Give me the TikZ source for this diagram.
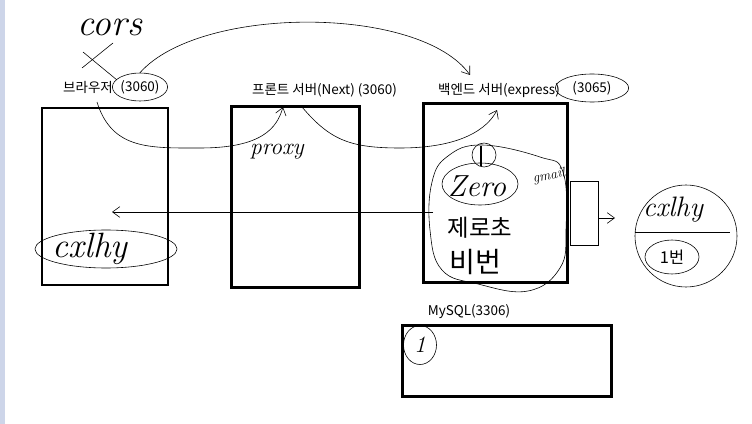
\documentclass[tikz,border=0pt]{standalone}
\usepackage{fontspec}
\newfontfamily\krfont{Noto Sans CJK KR}
\usetikzlibrary{positioning,arrows.meta,shapes.geometric}
\definecolor{sidebar}{RGB}{205,213,233}

\begin{document}
\begin{tikzpicture}[
    x=0.03cm, y=-0.03cm,
    server/.style={
        rectangle,
        draw,
        line width=2.4pt,
        inner sep=0pt
    },
    portname/.style={
        font=\krfont\fontsize{11.5}{13}\selectfont,
        inner sep=1pt
    },
    scrawl/.style={
        font=\itshape\fontsize{20}{20}\selectfont,
        inner sep=0pt
    },
    hand/.style={line width=0.5pt},
    ring/.style={ellipse, draw, line width=0.5pt, inner sep=0pt},
    arrow/.style={-{Straight Barb[length=2.2mm,width=3.2mm]}, line width=0.5pt}
]
\useasboundingbox (0,0) rectangle (752,424);
\fill[sidebar] (0,0) rectangle (5,424);

% servers
\node[server, minimum width=3.78cm, minimum height=5.31cm] (browser) at (105,196.5) {};
\node[server, minimum width=3.84cm, minimum height=5.43cm] (front) at (295.5,197) {};
\node[server, minimum width=4.32cm, minimum height=5.37cm] (back) at (495.5,193) {};
\node[server, minimum width=6.27cm, minimum height=2.13cm] (mysql) at (507,361) {};

% labels
\node[portname] (browserlbl) at (88,87) {브라우저};
\node[portname, ring, minimum width=1.5cm, minimum height=0.84cm] (browserport) at (140,87) {(3060)};
\node[portname] (frontlbl) at (324.5,90) {프론트 서버(Next) (3060)};
\node[portname] (backlbl) at (499,90) {백엔드 서버(express)};
\node[portname, ring, minimum width=2.2cm, minimum height=0.84cm] (backport) at (592,88) {(3065)};
\node[portname] (mysqllbl) at (469,312) {MySQL(3306)};

% cors
\node[scrawl, font=\itshape\fontsize{32}{32}\selectfont] (cors) at (110,27) {cors};
\draw[hand] (82,68) -- (113,43);
\draw[hand] (83,52) -- (117,80);
\coordinate (corsend) at (470,75);
\draw[arrow] (browserport.north) .. controls (200,5) and (420,5) .. (corsend);

% proxy
\node[scrawl] (proxy) at (277,152) {proxy};
\coordinate (proxyfrom) at (97,102);
\coordinate (proxyto) at (283,107);
\draw[arrow] (proxyfrom) .. controls (112,150) and (150,148) .. (200,148)
    .. controls (262,148) and (277,128) .. (proxyto);
\coordinate (apifrom) at (302,107);
\coordinate (apito) at (497,110);
\draw[arrow] (apifrom) .. controls (330,140) and (350,148) .. (400,148)
    .. controls (462,148) and (488,128) .. (apito);

% cookie back to browser
\coordinate (cookiefrom) at (433,212);
\coordinate (cookieto) at (112,212);
\draw[arrow] (cookiefrom) -- (cookieto);
\node[ring, minimum width=4.26cm, minimum height=1.14cm] (cookiering) at (106,249) {};
\node[scrawl, font=\itshape\fontsize{30}{30}\selectfont] (cookie) at (90,249) {cxlhy};

% session in backend
\draw[hand] plot[smooth cycle, tension=0.7] coordinates {(482,145) (540,157) (563,172) (566,230) (560,268) (528,291) (478,284) (442,270) (430,230) (432,182) (448,156)};
\node[ring, circle, minimum size=0.72cm] (session) at (484,155) {};
\draw[line width=1.8pt] (481,146) -- (481,166);
\node[ring, minimum width=2.28cm, minimum height=1.26cm] (zeroring) at (480,184) {};
\node[scrawl, font=\itshape\fontsize{26}{26}\selectfont] (zero) at (477,186) {Zero};
\node[scrawl, rotate=10, font=\itshape\fontsize{12}{12}\selectfont] (gmail) at (549,176) {gmail};
\node[font=\krfont\fontsize{20}{20}\selectfont, inner sep=0pt] (nick) at (480,228) {제로초};
\node[font=\krfont\fontsize{24}{24}\selectfont, inner sep=0pt] (pw) at (475,262) {비번};

% store
\node[draw, hand, minimum width=0.84cm, minimum height=1.92cm, inner sep=0pt] (sidebox) at (584,213) {};
\coordinate (storeto) at (615,218);
\draw[arrow] (sidebox.east |- storeto) -- (storeto);
\node[ring, circle, minimum size=3.06cm] (store) at (686,236) {};
\draw[hand] (635,232) -- (730,232);
\node[scrawl, font=\itshape\fontsize{24}{24}\selectfont] (storekey) at (673,210) {cxlhy};
\node[ring, minimum width=1.62cm, minimum height=1.02cm, font=\krfont\fontsize{14}{14}\selectfont] (storeval) at (672,257) {1번};

% mysql row
\node[ring, minimum width=0.99cm, minimum height=1.17cm, font=\itshape\fontsize{20}{20}\selectfont] (row) at (420,345) {1};

\end{tikzpicture}
\end{document}
